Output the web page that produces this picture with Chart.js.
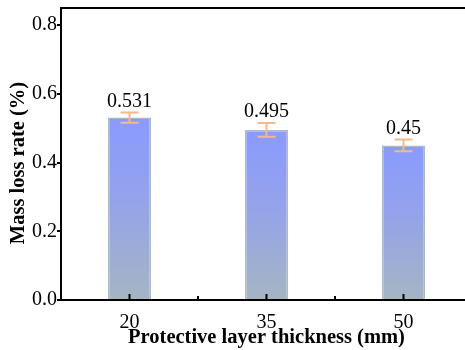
<!DOCTYPE html>
<html>
<head>
<meta charset="utf-8">
<script src="https://cdn.jsdelivr.net/npm/chart.js@4.4.1/dist/chart.umd.min.js"></script>
<style>
  html, body { margin: 0; padding: 0; background: #fff; overflow: hidden; }
  #wrap { width: 472px; height: 350px; }
</style>
</head>
<body>
<div id="wrap"><canvas id="massLossChart"></canvas></div>
<script>
const thickness = ['20', '35', '50']
const massLoss = [0.531, 0.495, 0.45]
const massLossErr = [0.015, 0.02, 0.017]
const yTicks = [0, 0.2, 0.4, 0.6, 0.8]
const yTitle = 'Mass loss rate (%)'

Chart.defaults.font.family = "'Liberation Serif', 'Times New Roman', serif"
Chart.defaults.color = '#000'

const barGradient = (context) => {
    const chart = context.chart
    const { ctx, chartArea, scales } = chart
    if (!chartArea || !scales.y) return '#96a6f0'
    const value = context.raw
    const top = scales.y.getPixelForValue(value)
    const bottom = scales.y.getPixelForValue(0)
    const g = ctx.createLinearGradient(0, top, 0, bottom)
    g.addColorStop(0, '#8a9aff')
    g.addColorStop(0.45, '#94a3ea')
    g.addColorStop(1, '#a5b5c3')
    return g
}

// frame lines, inward x ticks, error bars, value labels and y title
const decorations = {
    id: 'decorations',
    afterDatasetsDraw(chart) {
        const { ctx, chartArea, scales } = chart
        const x = scales.x, y = scales.y
        ctx.save()

        // error bars
        ctx.strokeStyle = '#f6b88c'
        ctx.lineWidth = 2
        massLoss.forEach((v, i) => {
            const px = x.getPixelForValue(i)
            const hi = y.getPixelForValue(v + massLossErr[i])
            const lo = y.getPixelForValue(v - massLossErr[i])
            ctx.beginPath()
            ctx.moveTo(px, hi); ctx.lineTo(px, lo)
            ctx.moveTo(px - 9, hi); ctx.lineTo(px + 9, hi)
            ctx.moveTo(px - 9, lo); ctx.lineTo(px + 9, lo)
            ctx.stroke()
        })

        // value labels
        ctx.fillStyle = '#000'
        ctx.font = "20px 'Liberation Serif', 'Times New Roman', serif"
        ctx.textAlign = 'center'
        ctx.textBaseline = 'bottom'
        massLoss.forEach((v, i) => {
            const px = x.getPixelForValue(i)
            const hi = y.getPixelForValue(v + massLossErr[i])
            ctx.fillText(String(v), px, hi - 1)
        })

        // x ticks pointing inward (major at categories, minor between)
        ctx.strokeStyle = '#000'
        ctx.lineWidth = 2
        const base = chartArea.bottom
        thickness.forEach((t, i) => {
            const px = x.getPixelForValue(i)
            ctx.beginPath()
            ctx.moveTo(px, base); ctx.lineTo(px, base - 6)
            ctx.stroke()
            if (i < thickness.length - 1) {
                const mid = (px + x.getPixelForValue(i + 1)) / 2
                ctx.beginPath()
                ctx.moveTo(mid, base); ctx.lineTo(mid, base - 4)
                ctx.stroke()
            }
        })

        // top and right frame lines
        ctx.beginPath()
        ctx.moveTo(chartArea.left - 1, chartArea.top)
        ctx.lineTo(chartArea.right + 2, chartArea.top)
        ctx.stroke()
        ctx.beginPath()
        ctx.moveTo(chartArea.right, chartArea.top)
        ctx.lineTo(chartArea.right, chartArea.bottom)
        ctx.stroke()

        // y axis title, sitting a little below the plot centre
        ctx.translate(19, (chartArea.top + chartArea.bottom) / 2 + 9)
        ctx.rotate(-Math.PI / 2)
        ctx.font = "bold 20.5px 'Liberation Serif', 'Times New Roman', serif"
        ctx.textAlign = 'center'
        ctx.textBaseline = 'middle'
        ctx.fillText(yTitle, 0, 0)
        ctx.restore()
    }
}

new Chart(document.getElementById('massLossChart'), {
    type: 'bar',
    data: {
        labels: thickness,
        datasets: [{
            data: massLoss,
            backgroundColor: barGradient,
            borderColor: '#abb9c8',
            borderWidth: 1.5,
            categoryPercentage: 1,
            barPercentage: 0.315
        }]
    },
    options: {
        responsive: true,
        maintainAspectRatio: false,
        animation: false,
        layout: { padding: { top: 8, left: 0, right: 0, bottom: 0 } },
        plugins: {
            legend: { display: false },
            tooltip: { enabled: false }
        },
        scales: {
            x: {
                grid: { display: false },
                border: { color: '#000', width: 2 },
                ticks: { font: { size: 20 }, padding: 3, maxRotation: 0 },
                title: {
                    display: true,
                    text: 'Protective layer thickness (mm)',
                    font: { size: 20.5, weight: 'bold' },
                    padding: { top: -7, bottom: 0 }
                },
                afterFit: (scale) => {
                    scale.height = 50
                    scale.paddingLeft = 0
                    scale.paddingRight = 0
                }
            },
            y: {
                min: 0,
                max: 0.85,
                afterBuildTicks: (scale) => {
                    scale.ticks = yTicks.map(v => ({ value: v }))
                },
                ticks: {
                    font: { size: 20 },
                    padding: 0,
                    callback: (v) => v.toFixed(1)
                },
                grid: {
                    drawOnChartArea: false,
                    drawTicks: true,
                    tickLength: 4,
                    color: '#000',
                    lineWidth: 2
                },
                border: { color: '#000', width: 2 },
                afterFit: (scale) => {
                    scale.width = 61
                    scale.paddingTop = 0
                    scale.paddingBottom = 0
                }
            }
        }
    },
    plugins: [decorations]
})
</script>
</body>
</html>
